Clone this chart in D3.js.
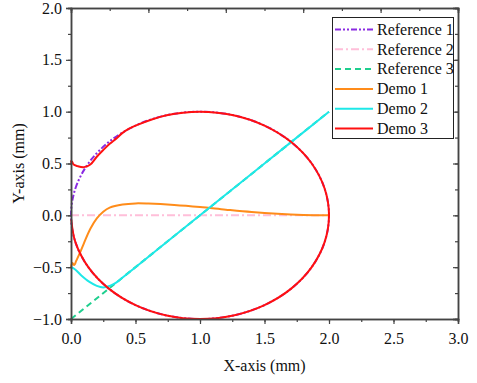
<!DOCTYPE html>
<html>
<head>
<meta charset="utf-8">
<script src="https://cdn.jsdelivr.net/npm/d3@7"></script>
<style>
    body { margin: 0; background: #fff; }
    .axis path, .axis line { stroke: #444; }
    .axis path { stroke-width: 1.5; }
    .axis line { stroke-width: 1.2; }
</style>
</head>
<body>
<svg width="477" height="383"></svg>
<script>
var FONT = "'Liberation Serif', 'Times New Roman', 'DejaVu Serif', serif";

// Tick values
var xTicks = [0, 0.5, 1.0, 1.5, 2.0, 2.5, 3.0];
var yTicks = [-1.0, -0.5, 0, 0.5, 1.0, 1.5, 2.0];

// Reference 1: circle around (1, 0)
var ref1X = [0, 0.034, 0.134, 0.293, 0.5, 0.741, 1, 1.259, 1.5, 1.707, 1.866, 1.966,
             2, 1.966, 1.866, 1.707, 1.5, 1.259, 1, 0.741, 0.5, 0.293, 0.134, 0.034];
var ref1Y = [0, 0.259, 0.5, 0.707, 0.866, 0.966, 1, 0.966, 0.866, 0.707, 0.5, 0.259,
             0, -0.259, -0.5, -0.707, -0.866, -0.966, -1, -0.966, -0.866, -0.707, -0.5, -0.259];

// Reference 2 and 3: straight lines
var ref2X = [0, 2];
var ref2Y = [0, 0];
var ref3X = [0, 2];
var ref3Y = [-1, 1];

// Demo 1
var demo1X = [0, 0.01, 0.025, 0.04, 0.07, 0.1, 0.15, 0.2, 0.25, 0.3, 0.4, 0.5, 0.6, 0.8, 1.0, 1.2, 1.4, 1.6, 1.8, 2.0];
var demo1Y = [-0.5, -0.46, -0.48, -0.44, -0.36, -0.27, -0.13, -0.03, 0.035, 0.075, 0.105, 0.115, 0.113, 0.1, 0.08, 0.055, 0.032, 0.015, 0.004, 0.0];

// Demo 2
var demo2X = [0, 0.03, 0.08, 0.14, 0.2, 0.25, 0.3, 0.35, 0.4, 0.5, 1.0, 1.5, 2.0];
var demo2Y = [-0.5, -0.52, -0.58, -0.64, -0.68, -0.695, -0.68, -0.65, -0.6, -0.5, 0.0, 0.5, 1.0];

// Demo 3
var demo3X = [0, 0.004, 0.008, 0.02, 0.05, 0.1, 0.15, 0.2, 0.25, 0.3, 0.35, 0.4, 0.45,
              0.5, 0.741, 1, 1.259, 1.5, 1.707, 1.866, 1.966, 2, 1.966, 1.866, 1.707, 1.5,
              1.259, 1, 0.741, 0.5, 0.293, 0.134, 0.034, 0.002];
var demo3Y = [0.53, 0.5, 0.52, 0.49, 0.475, 0.465, 0.49, 0.565, 0.63, 0.69, 0.74, 0.795, 0.836,
              0.866, 0.966, 1, 0.966, 0.866, 0.707, 0.5, 0.259, 0, -0.259, -0.5, -0.707, -0.866,
              -0.966, -1, -0.966, -0.866, -0.707, -0.5, -0.259, -0.04];

var seriesNames = ['Reference 1', 'Reference 2', 'Reference 3', 'Demo 1', 'Demo 2', 'Demo 3'];

var svg = d3.select('svg');
var margin = {l: 71, r: 458, t: 8, b: 319};

var xScale = d3.scaleLinear().domain([0, 3]).range([margin.l, margin.r]);
var yScale = d3.scaleLinear().domain([-1, 2]).range([margin.b, margin.t]);
// top axis just has its own evenly spaced ticks
var topScale = d3.scaleLinear().domain([0, 10]).range([margin.l, margin.r]);

function zip(xs, ys) {
    return xs.map(function(x, i) { return [x, ys[i]]; });
}

var series = [
    {name: seriesNames[0], data: zip(ref1X, ref1Y), color: '#8a2be2', dash: '6,2,2,2,2,2', closed: true},
    {name: seriesNames[1], data: zip(ref2X, ref2Y), color: '#ffbfd9', dash: '8,3,2,3'},
    {name: seriesNames[2], data: zip(ref3X, ref3Y), color: '#1fcf8f', dash: '6,4'},
    {name: seriesNames[3], data: zip(demo1X, demo1Y), color: '#ff8c1a', dash: null},
    {name: seriesNames[4], data: zip(demo2X, demo2Y), color: '#1ee8e8', dash: null},
    {name: seriesNames[5], data: zip(demo3X, demo3Y), color: '#ff1010', dash: null}
];

var lineOpen = d3.line()
    .x(function(d) { return xScale(d[0]); })
    .y(function(d) { return yScale(d[1]); })
    .curve(d3.curveCatmullRom.alpha(0.5));

var lineClosed = d3.line()
    .x(function(d) { return xScale(d[0]); })
    .y(function(d) { return yScale(d[1]); })
    .curve(d3.curveCatmullRomClosed.alpha(0.5));

// Draw curves
var plotG = svg.append('g');
series.forEach(function(s) {
    plotG.append('path')
        .attr('d', s.closed ? lineClosed(s.data) : lineOpen(s.data))
        .attr('fill', 'none')
        .attr('stroke', s.color)
        .attr('stroke-width', 2)
        .attr('stroke-dasharray', s.dash);
});

// Minor tick helper
function minorTicks(step, lo, hi) {
    return d3.range(lo, hi + 1e-9, step);
}

function styleAxis(g) {
    g.attr('font-family', FONT).attr('font-size', 16);
    g.selectAll('text').attr('fill', '#111');
}

// Bottom axis
svg.append('g')
    .attr('class', 'axis')
    .attr('transform', 'translate(0,' + margin.b + ')')
    .call(d3.axisBottom(xScale).tickValues(minorTicks(0.25, 0, 3)).tickSize(3).tickFormat(''));
svg.append('g')
    .attr('class', 'axis')
    .attr('transform', 'translate(0,' + margin.b + ')')
    .call(d3.axisBottom(xScale).tickValues(xTicks).tickSize(5).tickPadding(9).tickFormat(d3.format('.1f')))
    .call(styleAxis);

// Left axis
svg.append('g')
    .attr('class', 'axis')
    .attr('transform', 'translate(' + margin.l + ',0)')
    .call(d3.axisLeft(yScale).tickValues(minorTicks(0.25, -1, 2)).tickSize(3).tickFormat(''));
svg.append('g')
    .attr('class', 'axis')
    .attr('transform', 'translate(' + margin.l + ',0)')
    .call(d3.axisLeft(yScale).tickValues(yTicks).tickSize(5).tickPadding(4).tickFormat(d3.format('.1f')))
    .call(styleAxis);

// Top axis (ticks inward)
svg.append('g')
    .attr('class', 'axis')
    .attr('transform', 'translate(0,' + margin.t + ')')
    .call(d3.axisBottom(topScale).tickValues(d3.range(0, 11, 1)).tickSize(3).tickFormat(''));
svg.append('g')
    .attr('class', 'axis')
    .attr('transform', 'translate(0,' + margin.t + ')')
    .call(d3.axisBottom(topScale).tickValues(d3.range(0, 11, 2)).tickSize(5).tickFormat(''));

// Right axis (ticks inward)
svg.append('g')
    .attr('class', 'axis')
    .attr('transform', 'translate(' + margin.r + ',0)')
    .call(d3.axisLeft(yScale).tickValues(minorTicks(0.25, -1, 2)).tickSize(3).tickFormat(''));
svg.append('g')
    .attr('class', 'axis')
    .attr('transform', 'translate(' + margin.r + ',0)')
    .call(d3.axisLeft(yScale).tickValues(yTicks).tickSize(5).tickFormat(''));

// Axis titles
svg.append('text')
    .attr('font-family', FONT)
    .attr('font-size', 16)
    .attr('fill', '#111')
    .attr('text-anchor', 'middle')
    .attr('x', (margin.l + margin.r) / 2)
    .attr('y', 371)
    .text('X-axis (mm)');

svg.append('text')
    .attr('font-family', FONT)
    .attr('font-size', 16)
    .attr('fill', '#111')
    .attr('text-anchor', 'middle')
    .attr('transform', 'translate(' + [24, (margin.t + margin.b) / 2] + ') rotate(-90)')
    .text('Y-axis (mm)');

// Legend
var legendG = svg.append('g')
    .attr('font-family', FONT)
    .attr('font-size', 16);
legendG.append('rect')
    .attr('x', 332.5).attr('y', 17.5)
    .attr('width', 121).attr('height', 121)
    .attr('fill', '#fff')
    .attr('stroke', '#222')
    .attr('stroke-width', 1);

var legendItems = legendG.selectAll('.item')
    .data(series)
    .enter()
    .append('g')
    .attr('class', 'item')
    .attr('transform', function(d, i) { return 'translate(' + [335, 29.5 + i * 19.8] + ')'; });

legendItems.append('line')
    .attr('x1', 0).attr('x2', 38)
    .attr('stroke', function(d) { return d.color; })
    .attr('stroke-width', 2)
    .attr('stroke-dasharray', function(d) { return d.dash; });

legendItems.append('text')
    .attr('x', 42)
    .attr('dy', '0.33em')
    .attr('fill', '#111')
    .text(function(d) { return d.name; });
</script>
</body>
</html>
